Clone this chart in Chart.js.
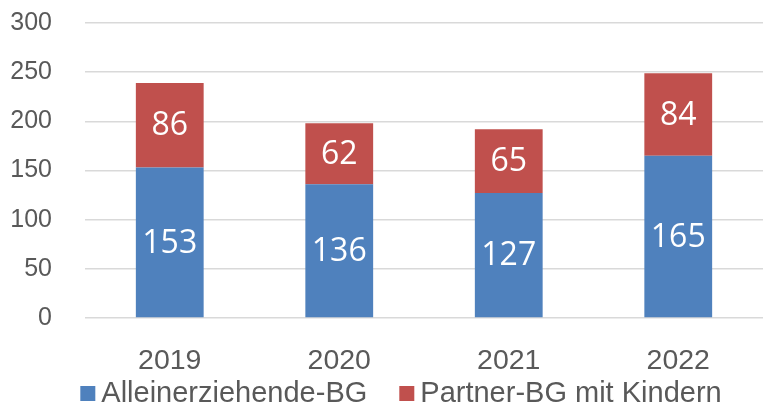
<!DOCTYPE html>
<html>
<head>
<meta charset="utf-8">
<script src="https://cdn.jsdelivr.net/npm/chart.js@4/dist/chart.umd.min.js"></script>
<style>
html,body{margin:0;padding:0;background:#fff;}
#wrap{width:763px;height:405px;position:relative;}
</style>
</head>
<body>
<div id="wrap"><canvas id="c" width="763" height="405"></canvas></div>
<script>
const categories = ["2019", "2020", "2021", "2022"];
const alleinerziehende = [153, 136, 127, 165];
const partnerMitKindern = [86, 62, 65, 84];
const seriesNames = ["Alleinerziehende-BG", "Partner-BG mit Kindern"];
const yTicks = [0, 50, 100, 150, 200, 250, 300];

const FONT = 'Liberation Sans, Arial, sans-serif';
const labelPlugin = {
  id: 'barLabels',
  afterDatasetsDraw(chart) {
    const ctx = chart.ctx;
    ctx.save();
    ctx.fillStyle = '#ffffff';
    ctx.font = '32px "Open Sans", "Noto Sans", sans-serif';
    ctx.textAlign = 'center';
    ctx.textBaseline = 'middle';
    chart.data.datasets.forEach((ds, i) => {
      const meta = chart.getDatasetMeta(i);
      meta.data.forEach((bar, j) => {
        const y = (bar.y + bar.base) / 2;
        ctx.fillText(String(ds.data[j]), bar.x, y + 1);
      });
    });
    ctx.restore();
  }
};

const legendPlugin = {
  id: 'customLegend',
  afterDraw(chart) {
    const ctx = chart.ctx;
    ctx.save();
    ctx.font = '29px ' + FONT;
    ctx.textBaseline = 'middle';
    ctx.textAlign = 'left';
    const box = 15, gap = 6, itemGap = 32;
    const items = chart.data.datasets.map(ds => ({ text: ds.label, color: ds.backgroundColor, w: ctx.measureText(ds.label).width }));
    let total = items.reduce((s, it) => s + box + gap + it.w, 0) + itemGap * (items.length - 1);
    let x = 401 - total / 2;
    const cy = 393.5;
    items.forEach(it => {
      ctx.fillStyle = it.color;
      ctx.fillRect(x, cy - box / 2, box, box);
      ctx.fillStyle = '#595959';
      ctx.fillText(it.text, x + box + gap, cy);
      x += box + gap + it.w + itemGap;
    });
    ctx.restore();
  }
};

const chart = new Chart(document.getElementById('c'), {
  type: 'bar',
  data: {
    labels: categories,
    datasets: [
      { label: seriesNames[0], data: alleinerziehende, backgroundColor: '#4F81BD', borderWidth: 0, categoryPercentage: 1, barPercentage: 0.4 },
      { label: seriesNames[1], data: partnerMitKindern, backgroundColor: '#C0504D', borderWidth: 0, categoryPercentage: 1, barPercentage: 0.4 }
    ]
  },
  options: {
    responsive: false,
    animation: false,
    devicePixelRatio: 1,
    layout: { padding: { left: 10, right: 0, top: 23, bottom: 27 } },
    scales: {
      x: {
        stacked: true,
        grid: { display: false },
        border: { display: false },
        afterFit(axis) { axis.height = 60; },
        ticks: { color: '#595959', font: { family: FONT, size: 28.5 }, padding: 18 }
      },
      y: {
        stacked: true,
        min: 0, max: 300,
        afterBuildTicks(axis) { axis.ticks = yTicks.map(v => ({ value: v })); },
        afterFit(axis) { axis.width = 75; axis.paddingTop = 0; axis.paddingBottom = 0; },
        grid: { color: '#D9D9D9', lineWidth: 1.5, drawTicks: false },
        border: { display: false },
        ticks: { color: '#595959', font: { family: FONT, size: 25 }, padding: 33 }
      }
    },
    plugins: {
      legend: { display: false },
      tooltip: { enabled: false }
    }
  },
  plugins: [labelPlugin, legendPlugin]
});
</script>
</body>
</html>
